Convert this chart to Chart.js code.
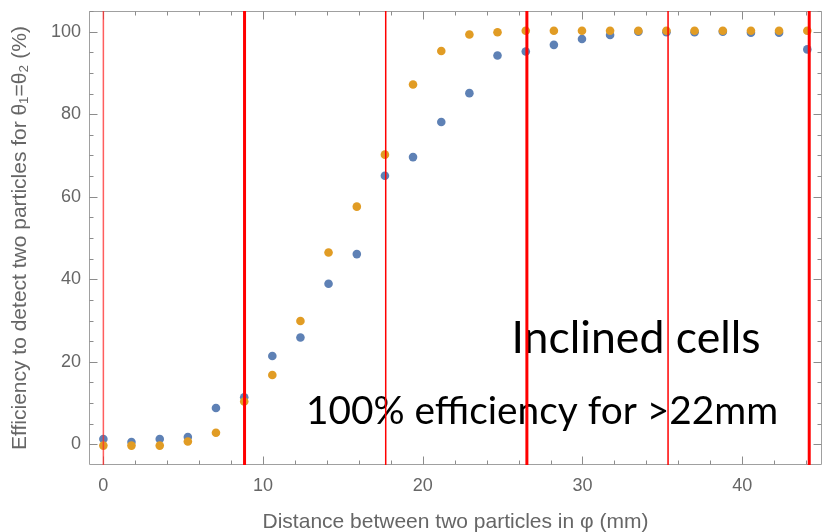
<!DOCTYPE html>
<html><head><meta charset="utf-8">
<script src="https://cdn.jsdelivr.net/npm/chart.js@4/dist/chart.umd.min.js"></script>
<style>html,body{margin:0;padding:0;background:#fff}#wrap{width:823px;height:532px}</style>
</head><body><div id="wrap"><canvas id="c" width="823" height="532"></canvas></div>
<script>
// Distance between two particles in phi (mm)
const distances = [0, 1.76, 3.53, 5.29, 7.05, 8.82, 10.58, 12.34, 14.1, 15.87, 17.63, 19.39, 21.16,
  22.92, 24.68, 26.45, 28.21, 29.97, 31.73, 33.5, 35.26, 37.02, 38.79, 40.55, 42.31, 44.08];
// Efficiency (%) — blue series
const effBlue = [1.3, 0.55, 1.3, 1.8, 8.8, 11.4, 21.4, 25.9, 38.9, 46.1, 65.1, 69.6, 78.1,
  85.1, 94.2, 95.2, 96.8, 98.2, 99.2, 100.0, 99.85, 99.85, 100.0, 99.75, 99.75, 95.7];
// Efficiency (%) — orange series
const effOrange = [-0.3, -0.3, -0.3, 0.7, 2.8, 10.4, 16.8, 29.9, 46.5, 57.6, 70.2, 87.2, 95.3,
  99.3, 99.85, 100.2, 100.2, 100.2, 100.2, 100.2, 100.2, 100.2, 100.2, 100.2, 100.2, 100.2];
// Cell boundaries (vertical red lines) and whether each is a thick one
const cellBoundaries = [0, 8.84, 17.68, 26.52, 35.36, 44.2];
const boundaryThick = [false, true, false, true, false, true];
const xTickLabels = [0, 10, 20, 30, 40];
const yTickLabels = [0, 20, 40, 60, 80, 100];
const annotations = [
  {text: 'Inclined cells', x: 25.55, y: 22.1, size: 44.6},
  {text: '100% efficiency for >22mm', x: 12.69, y: 4.9, size: 38.8}
];

const X_MIN = -0.9, X_MAX = 45.0, Y_MIN = -5.0, Y_MAX = 105.0;
const axisFont = '"Liberation Sans", Arial, sans-serif';
const annFont = 'Lato, "Open Sans", sans-serif';
const labelColor = '#666666';

const redLineSets = cellBoundaries.map((b, i) => ({
  type: 'line',
  data: [{x: b, y: Y_MIN}, {x: b, y: Y_MAX}],
  borderColor: boundaryThick[i] ? '#ff0000' : (b === 0 ? 'rgba(255,40,40,0.75)' : '#ff0000'),
  borderWidth: boundaryThick[i] ? 3 : 1.5,
  pointRadius: 0,
  fill: false,
  order: 0
}));

function zeroPad(s) { s.paddingTop = 0; s.paddingBottom = 0; s.paddingLeft = 0; s.paddingRight = 0; }

const framePlugin = {
  id: 'frame',
  beforeDatasetsDraw(chart) {
    const {ctx, chartArea: a, scales: {x, y}} = chart;
    ctx.save();
    // annotations (under the red lines)
    annotations.forEach(t => {
      ctx.font = `${t.size}px ${annFont}`;
      ctx.fillStyle = '#000';
      ctx.textAlign = 'left';
      ctx.textBaseline = 'alphabetic';
      ctx.fillText(t.text, x.getPixelForValue(t.x), y.getPixelForValue(t.y));
    });
    ctx.strokeStyle = '#a0a0a0';
    ctx.lineWidth = 1;
    ctx.beginPath();
    const L = Math.round(a.left) + 0.5, R = Math.round(a.right) - 0.5;
    const T = Math.round(a.top) + 0.5, B = Math.round(a.bottom) - 0.5;
    ctx.moveTo(L, T); ctx.lineTo(R, T); ctx.lineTo(R, B); ctx.lineTo(L, B); ctx.closePath();
    ctx.stroke();
    ctx.strokeStyle = '#8c8c8c';
    ctx.beginPath();
    for (let v = 0; v <= X_MAX; v += 2) {
      const px = Math.round(x.getPixelForValue(v)) + 0.5;
      const len = v % 10 === 0 ? 8 : 4;
      ctx.moveTo(px, B); ctx.lineTo(px, B - len);
      ctx.moveTo(px, T); ctx.lineTo(px, T + len);
    }
    for (let v = 0; v <= Y_MAX; v += 5) {
      const py = Math.round(y.getPixelForValue(v)) + 0.5;
      const len = v % 20 === 0 ? 8 : 4;
      ctx.moveTo(L, py); ctx.lineTo(L + len, py);
      ctx.moveTo(R, py); ctx.lineTo(R - len, py);
    }
    ctx.stroke();
    ctx.restore();
  }
};

new Chart(document.getElementById('c'), {
  type: 'scatter',
  data: {
    datasets: [
      ...redLineSets,
      {label: 'orange', data: distances.map((d, i) => ({x: d, y: effOrange[i]})),
        backgroundColor: '#e19c24', borderColor: '#e19c24', pointRadius: 4.3, borderWidth: 0, order: 1},
      {label: 'blue', data: distances.map((d, i) => ({x: d, y: effBlue[i]})),
        backgroundColor: '#5e81b5', borderColor: '#5e81b5', pointRadius: 4.3, borderWidth: 0, order: 2}
    ]
  },
  options: {
    responsive: false,
    animation: false,
    devicePixelRatio: 1,
    layout: {autoPadding: false, padding: {top: 11, right: 1, left: 0, bottom: 0}},
    plugins: {legend: {display: false}, tooltip: {enabled: false}},
    scales: {
      x: {
        type: 'linear', min: X_MIN, max: X_MAX,
        afterBuildTicks: s => { s.ticks = xTickLabels.map(v => ({value: v})); },
        afterFit: s => { s.height = 67; zeroPad(s); },
        grid: {display: false, drawTicks: false},
        border: {display: false},
        ticks: {color: labelColor, font: {size: 18, family: axisFont}, padding: 10, maxRotation: 0},
        title: {display: true, text: 'Distance between two particles in φ (mm)', color: labelColor,
          font: {size: 21, family: axisFont}, padding: {top: 0, bottom: -3}}
      },
      y: {
        type: 'linear', min: Y_MIN, max: Y_MAX,
        afterBuildTicks: s => { s.ticks = yTickLabels.map(v => ({value: v})); },
        afterFit: s => { s.width = 89; zeroPad(s); },
        grid: {display: false, drawTicks: false},
        border: {display: false},
        ticks: {color: labelColor, font: {size: 18, family: axisFont}, padding: 8},
        title: {display: true, text: 'Efficiency to detect two particles for θ₁=θ₂ (%)', color: labelColor,
          font: {size: 21, family: axisFont}, padding: {top: 8, bottom: 0}}
      }
    }
  },
  plugins: [framePlugin]
});
</script>
</body></html>
